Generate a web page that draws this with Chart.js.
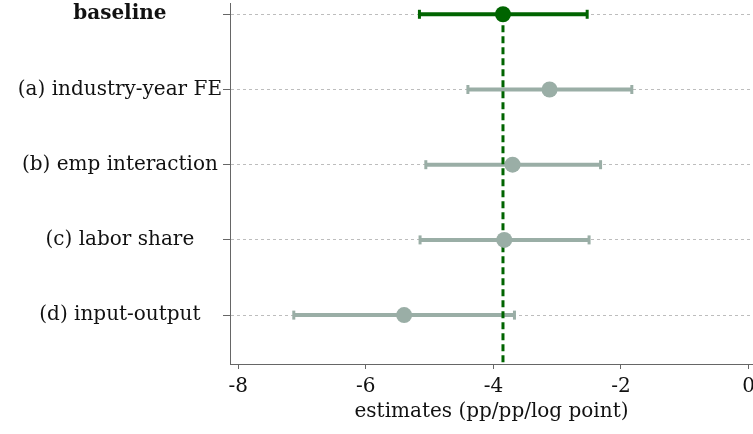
<!DOCTYPE html>
<html>
<head>
<meta charset="utf-8">
<script src="https://cdn.jsdelivr.net/npm/chart.js@4"></script>
<style>
  html, body { margin: 0; padding: 0; background: #fff; }
  #wrap { width: 753px; height: 434px; }
</style>
</head>
<body>
<div id="wrap"><canvas id="myChart" width="753" height="434"></canvas></div>
<script>
// specifications, top to bottom
const specs = ['baseline', '(a) industry-year FE', '(b) emp interaction', '(c) labor share', '(d) input-output'];
const estimates = [-3.85, -3.12, -3.70, -3.83, -5.40];
const lower = [-5.16, -4.40, -5.06, -5.15, -7.13];
const upper = [-2.53, -1.83, -2.32, -2.50, -3.67];
const xTicks = [-8, -6, -4, -2, 0];
const refValue = estimates[0];

const dark = '#006400';
const grey = '#9aaea6';
const serif = "'DejaVu Serif', 'Liberation Serif', serif";

const yMin = -0.15, yMax = 4.65;

// one line per confidence interval, caps drawn as rotated line points
const ciSets = specs.map((s, i) => ({
    type: 'line',
    data: [{x: lower[i], y: i}, {x: upper[i], y: i}],
    borderColor: i === 0 ? dark : grey,
    borderWidth: 4,
    pointStyle: 'line',
    rotation: 90,
    pointRadius: 4.5,
    pointBorderWidth: 3,
    pointBorderColor: i === 0 ? dark : grey,
    pointHoverRadius: 0,
    order: 3
}));

const refSet = {
    type: 'line',
    data: [{x: refValue, y: 0}, {x: refValue, y: yMax}],
    borderColor: dark,
    borderWidth: 3,
    borderDash: [7, 4],
    pointRadius: 0,
    order: 2
};

const pointSet = {
    type: 'scatter',
    data: estimates.map((v, i) => ({x: v, y: i})),
    backgroundColor: estimates.map((v, i) => i === 0 ? dark : grey),
    borderWidth: 0,
    pointRadius: 8,
    order: 1
};

const ctx = document.getElementById('myChart').getContext('2d');
let myChart = new Chart(ctx, {
    type: 'scatter',
    data: { datasets: [...ciSets, refSet, pointSet] },
    options: {
        responsive: false,
        animation: false,
        layout: { padding: { top: 3, left: 0, right: 0, bottom: 0 }, autoPadding: false },
        plugins: { legend: { display: false }, tooltip: { enabled: false } },
        scales: {
            x: {
                type: 'linear',
                min: -8.13,
                max: 0.07,
                afterBuildTicks: scale => { scale.ticks = xTicks.map(v => ({value: v})); },
                afterFit: scale => { scale.height = 70; scale.paddingRight = 0; scale.paddingLeft = 0; },
                ticks: {
                    color: '#111',
                    font: { family: serif, size: 20 },
                    padding: 6,
                    callback: v => String(v)
                },
                grid: { drawOnChartArea: false, drawTicks: true, tickLength: 5, tickColor: '#666', tickWidth: 1 },
                border: { color: '#666', width: 1 },
                title: {
                    display: true,
                    text: 'estimates (pp/pp/log point)',
                    color: '#111',
                    font: { family: serif, size: 20 },
                    padding: { top: 0, bottom: 10 }
                }
            },
            y: {
                type: 'linear',
                reverse: true,
                min: yMin,
                max: yMax,
                afterBuildTicks: scale => { scale.ticks = specs.map((s, i) => ({value: i})); },
                afterFit: scale => { scale.width = 230; scale.paddingTop = 0; scale.paddingBottom = 0; },
                ticks: {
                    color: '#111',
                    crossAlign: 'center',
                    padding: 1,
                    font: ctx => ({ family: serif, size: 20, weight: ctx.index === 0 ? 'bold' : 'normal' }),
                    callback: v => specs[v]
                },
                grid: {
                    color: '#bdbdbd',
                    lineWidth: 1,
                    drawTicks: true,
                    tickLength: 7,
                    tickColor: '#666',
                    tickBorderDash: []
                },
                border: { color: '#666', width: 1, dash: [3, 3] }
            }
        }
    }
});
</script>
</body>
</html>
